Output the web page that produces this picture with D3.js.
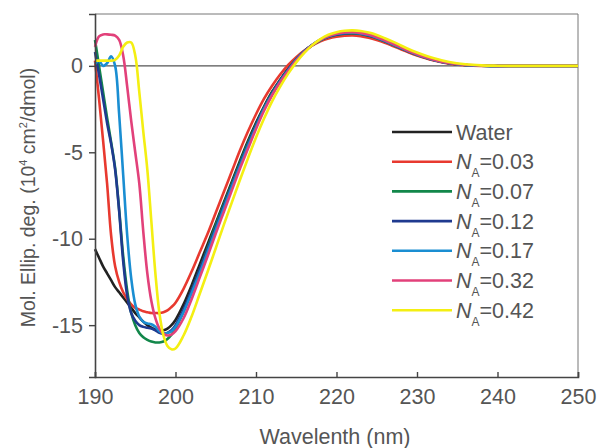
<!DOCTYPE html>
<html><head><meta charset="utf-8">
<script src="https://cdn.jsdelivr.net/npm/d3@7/dist/d3.min.js"></script>
<style>body{margin:0;background:#fff;}svg{display:block;font-family:"Liberation Sans",Arial,sans-serif;}</style>
</head><body><svg id="c" width="599" height="448"></svg>
<script>
const wavelength = [190,190.5,191,191.5,192,192.5,193,193.5,194,194.5,195,195.5,196,196.5,197,197.5,198,198.5,199,199.5,200,
  201,202,203,204,205,206,207,208,209,210,211,212,213,214,
  215,216,217,218,219,220,221,222,223,224,225,226,227,228,229,230,232,234,236,238,240,242,244,246,248,250];

const water = [-10.6,-11.1,-11.6,-12.0,-12.4,-12.8,-13.1,-13.4,-13.7,-14.0,-14.3,-14.55,-14.8,-15.0,-15.15,-15.25,-15.3,-15.3,-15.2,-15.0,-14.7,
  -13.8,-12.7,-11.5,-10.3,-9.1,-7.9,-6.7,-5.5,-4.35,-3.3,-2.35,-1.5,-0.8,-0.15,
  0.4,0.85,1.2,1.47,1.66,1.78,1.84,1.85,1.81,1.71,1.57,1.4,1.2,1.0,0.8,0.63,0.34,0.15,0.05,0.01,0,0,0,0,0,0];
const na003 = [0.3,-1.9,-4.3,-6.8,-9.8,-11.6,-12.5,-13.1,-13.5,-13.8,-14.0,-14.1,-14.2,-14.25,-14.3,-14.3,-14.3,-14.25,-14.15,-13.95,-13.7,
  -12.9,-11.9,-10.8,-9.7,-8.5,-7.3,-6.1,-4.9,-3.8,-2.8,-1.9,-1.15,-0.5,0.05,
  0.5,0.88,1.18,1.42,1.58,1.68,1.74,1.76,1.72,1.63,1.5,1.34,1.15,0.96,0.77,0.6,0.32,0.13,0.04,0,0,0,0,0,0,0];
const na007 = [1.5,0.0,-1.5,-3.0,-4.4,-5.9,-8.3,-11.0,-13.0,-14.3,-15.0,-15.45,-15.7,-15.85,-15.95,-16.0,-16.0,-15.95,-15.8,-15.55,-15.2,
  -14.2,-13.0,-11.8,-10.5,-9.2,-8.0,-6.8,-5.6,-4.45,-3.4,-2.4,-1.55,-0.85,-0.2,
  0.38,0.84,1.2,1.48,1.68,1.8,1.86,1.88,1.84,1.74,1.6,1.42,1.22,1.02,0.82,0.64,0.35,0.15,0.05,0.01,0,0,0,0,0,0];
const na012 = [0.8,-0.5,-1.9,-3.3,-4.5,-6.0,-8.4,-11.3,-13.3,-14.3,-14.75,-15.0,-15.1,-15.15,-15.2,-15.3,-15.45,-15.5,-15.45,-15.3,-15.0,
  -14.1,-13.0,-11.8,-10.6,-9.35,-8.1,-6.9,-5.7,-4.55,-3.45,-2.45,-1.6,-0.85,-0.2,
  0.38,0.85,1.22,1.5,1.7,1.82,1.88,1.9,1.86,1.76,1.62,1.44,1.24,1.03,0.83,0.65,0.35,0.15,0.05,0.01,0,0,0,0,0,0];
const na017 = [0.1,0.3,0.0,0.15,0.55,0.0,-2.8,-6.3,-9.8,-12.3,-13.8,-14.5,-14.8,-14.9,-14.95,-15.1,-15.35,-15.5,-15.45,-15.35,-15.1,
  -14.25,-13.15,-12.0,-10.75,-9.5,-8.25,-7.0,-5.8,-4.65,-3.55,-2.5,-1.65,-0.9,-0.25,
  0.35,0.83,1.22,1.51,1.71,1.84,1.9,1.92,1.88,1.78,1.63,1.45,1.25,1.04,0.84,0.66,0.36,0.16,0.05,0.01,0,0,0,0,0,0];
const na032 = [1.1,1.7,1.82,1.82,1.8,1.75,1.5,0.6,-1.2,-3.2,-5.0,-6.8,-9.6,-12.0,-13.6,-14.6,-15.2,-15.5,-15.6,-15.55,-15.35,
  -14.6,-13.5,-12.25,-11.0,-9.7,-8.45,-7.2,-5.95,-4.8,-3.65,-2.6,-1.7,-0.95,-0.3,
  0.3,0.8,1.2,1.52,1.73,1.86,1.93,1.95,1.91,1.81,1.66,1.48,1.28,1.07,0.86,0.68,0.37,0.17,0.06,0.02,0,0,0,0,0,0];
const na042 = [0.3,0.3,0.3,0.3,0.3,0.35,0.6,1.1,1.35,1.35,0.6,-1.5,-3.8,-6.0,-9.0,-12.0,-14.3,-15.6,-16.2,-16.4,-16.35,
  -15.6,-14.5,-13.2,-11.9,-10.55,-9.2,-7.9,-6.6,-5.35,-4.15,-3.05,-2.05,-1.2,-0.45,
  0.2,0.75,1.2,1.55,1.8,1.95,2.03,2.05,2.02,1.93,1.79,1.6,1.4,1.18,0.96,0.77,0.45,0.22,0.09,0.03,0.01,0,0,0,0,0];

const seriesNames = ["Water","0.03","0.07","0.12","0.17","0.32","0.42"];
const seriesValues = [water,na003,na007,na012,na017,na032,na042];
const seriesColors = ["#222222","#e8392f","#12874a","#1f3a8f","#1a8ed2","#e2417a","#f4ef12"];
const xTicks = [190,200,210,220,230,240,250];
const yTicks = [0,-5,-10,-15];

const svg = d3.select("#c");
const L = 95, R = 578, T = 14, B = 377;
const x = d3.scaleLinear().domain([190,250]).range([L,R]);
const y = d3.scaleLinear().domain([-18,3]).range([B,T]);
const txt = "#555";

// frame top/right
svg.append("line").attr("x1",L).attr("x2",R).attr("y1",T).attr("y2",T).attr("stroke","#777").attr("stroke-width",1);
svg.append("line").attr("x1",R).attr("x2",R).attr("y1",T).attr("y2",B).attr("stroke","#777").attr("stroke-width",1);

// zero line
svg.append("line").attr("x1",L).attr("x2",R).attr("y1",y(0)).attr("y2",y(0)).attr("stroke","#555").attr("stroke-width",1.2);

// curves
const line = d3.line().x((d,i)=>x(wavelength[i])).y(d=>y(d)).curve(d3.curveCatmullRom.alpha(0.5));
seriesValues.forEach((vals,k)=>{
  svg.append("path").attr("d",line(vals)).attr("fill","none").attr("stroke",seriesColors[k]).attr("stroke-width",2.6).attr("stroke-linejoin","round");
});

// axes
const xa = svg.append("g").attr("transform",`translate(0,${B})`).call(d3.axisBottom(x).tickValues(xTicks).tickSize(-5).tickPadding(12).tickFormat(d3.format("d")));
const ya = svg.append("g").attr("transform",`translate(${L},0)`).call(d3.axisLeft(y).tickValues(yTicks).tickSize(6).tickPadding(6).tickFormat(d=>d===0?"0":String(d)));
[xa,ya].forEach(g=>{
  g.select(".domain").attr("stroke","#444").attr("stroke-width",1.6);
  g.selectAll(".tick line").attr("stroke","#444").attr("stroke-width",1.4);
  g.selectAll(".tick text").attr("fill",txt).style("font-size","21.5px").style("font-family","'Liberation Sans',Arial,sans-serif");
});
xa.selectAll(".tick text").attr("dy","0.71em");

// axis titles
svg.append("text").attr("x",335).attr("y",444).attr("text-anchor","middle").attr("fill",txt).style("font-size","21.5px").text("Wavelenth (nm)");
const yt = svg.append("text").attr("transform",`translate(35,${(T+B)/2+2}) rotate(-90)`).attr("text-anchor","middle").attr("fill",txt).style("font-size","19.5px");
yt.append("tspan").text("Mol. Ellip. deg. (10");
yt.append("tspan").attr("dy",-8).style("font-size","11px").text("4");
yt.append("tspan").attr("dy",8).text(" cm");
yt.append("tspan").attr("dy",-8).style("font-size","11px").text("2");
yt.append("tspan").attr("dy",8).text("/dmol)");

// legend
const lg = svg.append("g");
seriesNames.forEach((n,i)=>{
  const yy = 132 + i*29.7;
  lg.append("line").attr("x1",392).attr("x2",452).attr("y1",yy).attr("y2",yy).attr("stroke",seriesColors[i]).attr("stroke-width",2.6);
  const t = lg.append("text").attr("x",456).attr("y",yy+7.5).attr("fill",txt).style("font-size","21.5px");
  if(i===0){ t.text(n); }
  else {
    t.append("tspan").style("font-style","italic").text("N");
    t.append("tspan").attr("dy",8).style("font-size","12px").text("A");
    t.append("tspan").attr("dy",-8).text("=" + n);
  }
});
</script></body></html>
